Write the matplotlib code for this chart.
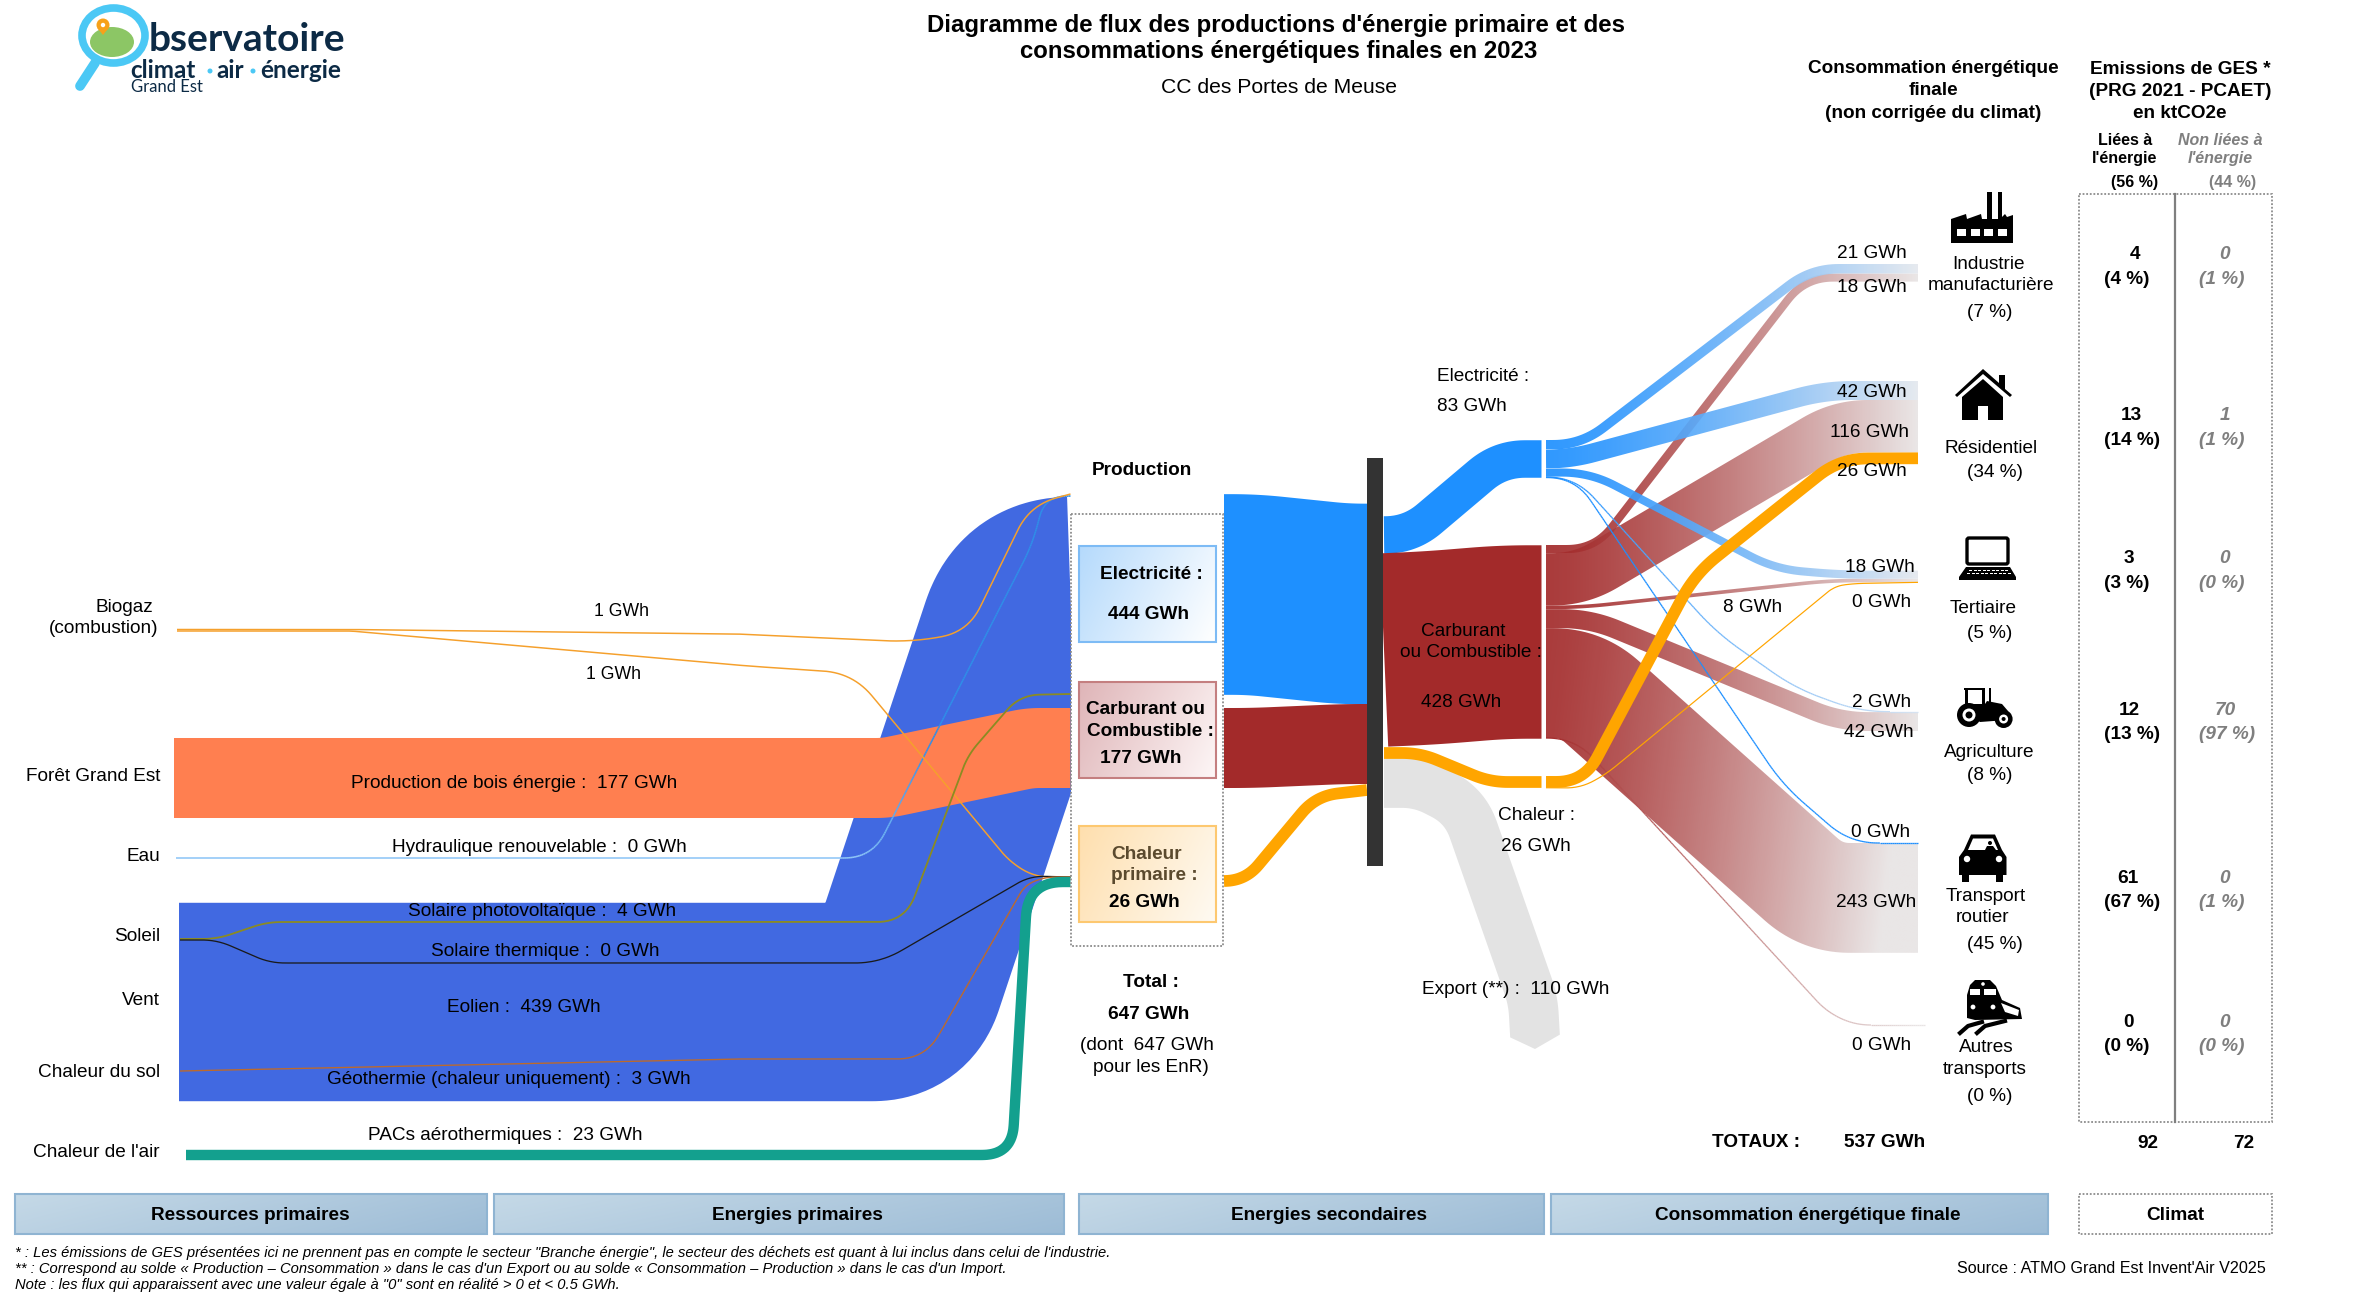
import numpy as np
import matplotlib
matplotlib.use('Agg')
import matplotlib.pyplot as plt
from matplotlib.path import Path
from matplotlib.patches import PathPatch, Rectangle, Polygon, Circle, Ellipse, FancyBboxPatch
from matplotlib.collections import LineCollection
from matplotlib.colors import to_rgb

plt.rcParams['font.family'] = ['Liberation Sans', 'DejaVu Sans']

# values (GWh)
biogas_values = [1, 1]
wood_value = 177
hydro_value = 0
solar_pv_value = 4
solar_th_value = 0
wind_value = 439
geo_value = 3
pac_value = 23

production_values = [444, 177, 26]
production_total = 647
secondary_values = [83, 428, 26]
export_value = 110

sectors = ['Industrie', 'Résidentiel', 'Tertiaire', 'Agriculture', 'Transport routier', 'Autres transports']
elec_to_sector = [21, 42, 18, 2, 0, None]
fuel_to_sector = [18, 116, 8, 42, 243, 0]
heat_to_sector = [None, 26, 0, None, None, None]
sector_pct = [7, 34, 5, 8, 45, 0]
final_total = 537

ges_energy = [4, 13, 3, 12, 61, 0]
ges_energy_pct = [4, 14, 3, 13, 67, 0]
ges_other = [0, 1, 0, 70, 0, 0]
ges_other_pct = [1, 1, 0, 97, 1, 0]
ges_totals = [92, 72]
ges_share = [56, 44]

# layout
GWH_PX = 0.452
BLUE = '#1e90ff'
RED = '#a32a2a'
ORANGE = '#ffa500'
ROYAL = '#4169e1'
FS = 13.7

fig = plt.figure(figsize=(23.7, 12.99), dpi=100)
ax = fig.add_axes([0, 0, 1, 1])
ax.set_xlim(0, 2370)
ax.set_ylim(1299, 0)
ax.axis('off')
ax.autoscale(False)


def sample_route(points, radii=20):
    pts = [np.array(p, dtype=float) for p in points]
    if np.isscalar(radii):
        radii = [radii] * len(pts)
    out = [pts[0]]
    for i in range(1, len(pts) - 1):
        d1 = pts[i] - pts[i - 1]
        d2 = pts[i + 1] - pts[i]
        l1, l2 = np.hypot(*d1), np.hypot(*d2)
        # the first and last legs are not shared with another bend
        lim1 = l1 if i == 1 else l1 / 2
        lim2 = l2 if i == len(pts) - 2 else l2 / 2
        r = min(radii[i - 1], lim1, lim2)
        a = pts[i] - d1 / l1 * r
        b = pts[i] + d2 / l2 * r
        for t in np.linspace(0, 1, 15):
            out.append((1 - t) ** 2 * a + 2 * t * (1 - t) * pts[i] + t ** 2 * b)
    out.append(pts[-1])
    out = np.array(out)
    s = np.r_[0, np.cumsum(np.hypot(*np.diff(out, axis=0).T))]
    keep = np.r_[True, np.diff(s) > 1e-6]
    out, s = out[keep], s[keep]
    ss = np.linspace(0, s[-1], max(int(s[-1] / 2), 2) + 1)
    return np.c_[np.interp(ss, s, out[:, 0]), np.interp(ss, s, out[:, 1])]


def band_path(line, w, tip=None):
    # union of small triangles, all turned the same way, so sharp inner bends stay filled
    d = np.gradient(line, axis=0)
    d /= np.hypot(d[:, 0], d[:, 1])[:, None]
    d[0] = line[1] - line[0]
    d[0] /= np.hypot(*d[0])
    d[-1] = line[-1] - line[-2]
    d[-1] /= np.hypot(*d[-1])
    n = np.c_[-d[:, 1], d[:, 0]] * w / 2
    verts, codes = [], []
    def add(q):
        q = np.array(q)
        x, y = q[:, 0], q[:, 1]
        if np.dot(x, np.roll(y, 1)) - np.dot(y, np.roll(x, 1)) < 0:
            q = q[::-1]
        verts.extend(list(q) + [q[0]])
        codes.extend([Path.MOVETO] + [Path.LINETO] * (len(q) - 1) + [Path.CLOSEPOLY])
    for i in range(len(line) - 1):
        for sign in (1, -1):
            a, b = line[i] + sign * n[i], line[i + 1] + sign * n[i + 1]
            add([line[i], line[i + 1], b])
            add([line[i], b, a])
    if tip is not None:
        add([line[-1] + n[-1], line[-1] - n[-1], tip])
    return Path(np.array(verts), codes)


def flow(points, value, color=BLUE, end_color=None, radii=20, min_w=1.3, z=3, tilt=0.0, alpha=0.92, tip=None, grad=(1546, 1918)):
    w = max(value * GWH_PX, min_w)
    line = sample_route(points, radii)
    if end_color is None:
        if w < 3:
            ax.plot(line[:, 0], line[:, 1], color=color, lw=w * 0.72, solid_capstyle='butt', zorder=z)
        else:
            ax.add_patch(PathPatch(band_path(line, w, tip), fc=color, ec='none', lw=0, zorder=z))
        return
    c0, c1 = np.array(to_rgb(color)), np.array(to_rgb(end_color))
    if w < 3:
        mids = (line[:-1] + line[1:]) / 2
        t = np.clip((mids[:, 0] - grad[0]) / (grad[1] - grad[0]), 0, 1)[:, None]
        segs = np.stack([line[:-1], line[1:]], axis=1)
        ax.add_collection(LineCollection(segs, colors=c0 * (1 - t) + c1 * t, linewidths=w * 0.72, zorder=z, capstyle='butt'))
        return
    path = band_path(line, w)
    x0, y0 = path.vertices.min(axis=0)
    x1, y1 = path.vertices.max(axis=0)
    xx, yy = np.meshgrid(np.linspace(x0, x1, 120), np.linspace(y0, y1, 120))
    t = np.clip((xx - grad[0] + tilt * (yy - y0)) / (grad[1] - grad[0]), 0, 1)[..., None] ** 1.3
    rgba = np.dstack([c0 * (1 - t) + c1 * t, np.full(xx.shape, alpha)])
    im = ax.imshow(rgba, extent=(x0, x1, y1, y0), aspect='auto', zorder=z, interpolation='bilinear')
    im.set_clip_path(path, ax.transData)


def txt(x, y, s, size=FS, ha='center', weight='normal', style='normal', color='black', z=20, **kw):
    ax.text(x, y + 1.5, s, fontsize=size, ha=ha, va='center', fontweight=weight, fontstyle=style, color=color, zorder=z, **kw)


def grad_box(x0, y0, x1, y1, c0, c1, edge, z=6, lw=1.5):
    xx, yy = np.meshgrid(np.linspace(0, 1, 60), np.linspace(0, 1, 60))
    t = np.clip((xx * 0.75 + yy * 0.25), 0, 1)[..., None]
    a, b = np.array(to_rgb(c0)), np.array(to_rgb(c1))
    ax.imshow(a * (1 - t) + b * t, extent=(x0, x1, y1, y0), aspect='auto', zorder=z, interpolation='bilinear')
    ax.add_patch(Rectangle((x0, y0), x1 - x0, y1 - y0, fc='none', ec=edge, lw=lw, zorder=z + 0.1))


def dotted_box(x0, y0, x1, y1, z=5, fc='white', ec='#8c8c8c'):
    ax.add_patch(Rectangle((x0, y0), x1 - x0, y1 - y0, fc=fc, ec=ec, lw=1.3, ls=(0, (1, 1)), zorder=z))


# ---- primary resources -> primary energies
END = 1070.5
flow([(179, 1002), (897, 1002), (1032, 596), (END, 596)], wind_value, ROYAL, radii=[24, 45], z=2)
flow([(174, 778), (886, 778), (1030, 748), (END, 748)], wood_value, '#ff7f50', radii=10, z=2.1)
flow([(176, 858), (872, 858), (1032, 545), (1045, 497), (END, 496)], hydro_value, '#8fc6f7', '#2f8ee8', radii=[28, 20, 20], min_w=1.6, z=2.2, grad=(860, 930))
flow([(177, 629.5), (351, 629.5), (737, 634), (912, 642), (968, 632), (1030, 505), (END, 494)], biogas_values[0], '#f5a02c', radii=[5, 5, 28, 28, 28], min_w=1.5, z=2.3)
flow([(177, 631), (351, 631), (747, 666), (853, 673), (1010, 862), (1035, 877), (END, 877)], biogas_values[1], '#f5a02c', radii=[5, 30, 30, 15, 15], min_w=1.5, z=2.3)
flow([(180, 939), (217, 939), (267, 922), (905, 922), (968, 755), (1020, 695), (END, 694)], solar_pv_value, '#8b8b22', radii=[15, 15, 28, 15, 20], z=2.4)
flow([(180, 940), (217, 940), (270, 963), (880, 963), (1030, 876), (END, 877)], solar_th_value, '#1a1a1a', radii=[15, 15, 25, 15], z=2.4)
flow([(180, 1071), (737, 1059), (925, 1059), (1025, 885), (1045, 877), (END, 877)], geo_value, '#bd6a2b', radii=[5, 28, 15, 15], z=2.4)
flow([(186, 1155), (1012, 1155), (1028, 882), (END, 882)], pac_value, '#13a08e', radii=[30, 35], z=2.5)

# production panel
dotted_box(1070.5, 514, 1223, 946, z=5)
grad_box(1079, 546, 1216, 642, '#b5dafc', '#ffffff', '#7dbbf5')
grad_box(1079, 682, 1216, 778, '#dfb5b8', '#fdf6f6', '#c47f80')
grad_box(1079, 826, 1216, 922, '#fedfae', '#fffaf2', '#fdc870')

# ---- production -> black bar
flow([(1224, 594.5), (1252, 594.5), (1344, 604), (1367, 604)], production_values[0], BLUE, radii=20)
flow([(1224, 748), (1252, 748), (1344, 744), (1367, 744)], production_values[1], RED, radii=20)
flow([(1224, 881), (1245, 881), (1316, 796), (1367, 790)], production_values[2], ORANGE, radii=[25, 22])
ax.add_patch(Rectangle((1367, 458), 16, 408, fc='#333333', ec='none', zorder=8))

# ---- black bar -> secondary energies
flow([(1384, 535), (1410, 535), (1500, 459), (1541.5, 459)], secondary_values[0], BLUE, radii=25)
flow([(1384, 650), (1430, 648), (1504, 642), (1541.5, 642)], secondary_values[1], RED, radii=25)
flow([(1384, 753), (1420, 753), (1490, 782), (1541.5, 782)], secondary_values[2], ORANGE, radii=18)
flow([(1384, 783), (1420, 783), (1465, 806), (1533, 1000), (1535, 1036)], export_value, '#e3e3e3', radii=[18, 25, 15], z=2.8,
     tip=(1535, 1049))

# ---- secondary energies -> final sectors
X_START = 1546
X_END = 1918
sector_top = [264, 381, 570.6, 711.2, 843, 1025]
elec_top = 440
fuel_top = 545
heat_top = 776

elec_mids = [
    [(1581, 445), (1811, 268)],
    [(1570, 459), (1825, 391)],
    [(1590, 472), (1775, 569), (1840, 575)],
    [(1575, 477), (1717, 633), (1795, 688), (1860, 711.5)],
    [(1575, 477), (1783, 785), (1850, 842)],
    None,
]
fuel_mids = [
    [(1595, 549), (1805, 276.5)],
    [(1580, 579.3), (1840, 426.4)],
    [(1580, 607.3), (1830, 581.3)],
    [(1590, 618.5), (1840, 721.5)],
    [(1581, 683.4), (1822, 898)],
    [(1575, 739), (1827, 1012), (1855, 1025)],
]
heat_mids = [
    None,
    [(1584, 782), (1695, 574), (1840, 458.5)],
    [(1580, 788), (1605, 775), (1835, 586), (1855, 583.5)],
    None, None, None,
]
elec_end_colors = ['#e4e8ee', '#e4e8ee', '#e4e8ee', '#d5e3f2', BLUE, None]
fuel_end_colors = ['#e8e4e4'] * 6

# how much is already stacked at the right end of each sector, in px
stacked = [0.0] * 6


def stack_flows(values, mids, top, color, end_colors, z):
    y = top
    for i, v in enumerate(values):
        if v is None:
            continue
        w = v * GWH_PX
        ys = y + w / 2
        ye = sector_top[i] + stacked[i] + w / 2
        stacked[i] += w
        y += w
        m = list(mids[i])
        m[0] = (m[0][0], ys) if abs(m[0][1] - ys) < 12 else m[0]
        xe = 1925 if i == 5 else X_END
        if abs(m[-1][1] - ye) < 8:
            m[-1] = (m[-1][0], ye)
        tilt = 0.12 if i == 4 else 0.0
        flow([(X_START, ys)] + m + [(xe, ye)], v, color, end_colors[i], radii=28, z=z, tilt=tilt)


# electricity sits on top at each sector, then fuel, then heat
stack_flows(elec_to_sector, elec_mids, elec_top, BLUE, elec_end_colors, 3.2)
stack_flows(fuel_to_sector, fuel_mids, fuel_top, RED, fuel_end_colors, 3.0)
y = heat_top
for i, v in enumerate(heat_to_sector):
    if v is None:
        continue
    w = v * GWH_PX
    ye = sector_top[i] + stacked[i] + w / 2
    stacked[i] += w
    flow([(X_START, y + w / 2)] + heat_mids[i] + [(X_END, ye)], v, ORANGE, radii=28, z=3.4, min_w=1.2)
    y += w

# ---- left labels
txt(124, 606, 'Biogaz')
txt(104, 626.5, '(combustion)')
left_labels = ['Forêt Grand Est', 'Eau', 'Soleil', 'Vent', 'Chaleur du sol', "Chaleur de l'air"]
left_label_y = [774.5, 855, 935, 999, 1071, 1151]
for s, yy in zip(left_labels, left_label_y):
    txt(160, yy, s, ha='right')

txt(621, 610, f'{biogas_values[0]} GWh', size=FS - 1)
txt(613, 673, f'{biogas_values[1]} GWh', size=FS - 1)
txt(514, 782, f'Production de bois énergie :  {wood_value} GWh')
txt(539, 846, f'Hydraulique renouvelable :  {hydro_value} GWh')
txt(542, 910, f'Solaire photovoltaïque :  {solar_pv_value} GWh')
txt(545, 950, f'Solaire thermique :  {solar_th_value} GWh')
txt(524, 1006, f'Eolien :  {wind_value} GWh')
txt(509, 1078, f'Géothermie (chaleur uniquement) :  {geo_value} GWh')
txt(505, 1134, f'PACs aérothermiques :  {pac_value} GWh')

# ---- middle labels
txt(1142, 469, 'Production', weight='bold')
txt(1151, 573, 'Electricité :', weight='bold')
txt(1149, 613, f'{production_values[0]} GWh', weight='bold')
txt(1146, 708, 'Carburant ou', weight='bold')
txt(1150, 730, 'Combustible :', weight='bold')
txt(1141, 757, f'{production_values[1]} GWh', weight='bold')
txt(1147, 853, 'Chaleur', weight='bold', color='#5b4a2e')
txt(1154, 874, 'primaire :', weight='bold', color='#5b4a2e')
txt(1144, 901, f'{production_values[2]} GWh', weight='bold')
txt(1151, 981, 'Total :', weight='bold')
txt(1149, 1012.5, f'{production_total} GWh', weight='bold')
txt(1147, 1044, f'(dont  {production_total} GWh')
txt(1151, 1066.5, 'pour les EnR)')

txt(1483, 375, 'Electricité :')
txt(1472, 405, f'{secondary_values[0]} GWh')
txt(1463, 630, 'Carburant')
txt(1471, 651, 'ou Combustible :')
txt(1461, 701, f'{secondary_values[1]} GWh')
txt(1536, 814, 'Chaleur :')
txt(1536, 845, f'{secondary_values[2]} GWh')
txt(1516, 988, f'Export (**) :  {export_value} GWh')

# ---- flow labels on the right
elec_label_pos = [(1872, 251.5), (1872, 390.6), (1880, 566), (1882, 701), (1881, 831), None]
fuel_label_pos = [(1872, 286), (1869, 431), (1753, 606), (1879, 731), (1876, 901), (1882, 1044)]
heat_label_pos = [None, (1872, 470), (1882, 601), None, None, None]
for vals, pos in [(elec_to_sector, elec_label_pos), (fuel_to_sector, fuel_label_pos), (heat_to_sector, heat_label_pos)]:
    for v, p in zip(vals, pos):
        if v is not None:
            txt(p[0], p[1], f'{v} GWh')

sector_lines = [['Industrie', 'manufacturière'], ['Résidentiel'], ['Tertiaire'], ['Agriculture'], ['Transport', 'routier'], ['Autres', 'transports']]
sector_line_pos = [[(1989, 263), (1991, 284)], [(1991, 447)], [(1983, 607)], [(1989, 750.5)], [(1986, 895), (1983, 916)], [(1986, 1046), (1985, 1068)]]
sector_pct_pos = [(1990, 311), (1995, 471), (1990, 632), (1990, 774), (1995, 942.5), (1990, 1095)]
for lines, pos, pct, pp in zip(sector_lines, sector_line_pos, sector_pct, sector_pct_pos):
    for s, p in zip(lines, pos):
        txt(p[0], p[1], s)
    txt(pp[0], pp[1], f'({pct} %)')

# ---- headers
txt(1276, 24, "Diagramme de flux des productions d'énergie primaire et des", size=17.3, weight='bold')
txt(1279, 50, 'consommations énergétiques finales en 2023', size=17.3, weight='bold')
txt(1279, 86, 'CC des Portes de Meuse', size=15.2)
for s, yy in zip(['Consommation énergétique', 'finale', '(non corrigée du climat)'], [67, 89, 112]):
    txt(1933, yy, s, weight='bold')
for s, yy in zip(['Emissions de GES *', '(PRG 2021 - PCAET)', 'en ktCO2e'], [68, 90, 112]):
    txt(2180, yy, s, weight='bold')
GREY = '#7f7f7f'
txt(2125, 138.5, 'Liées à', size=11.5, weight='bold')
txt(2125, 157, "l'énergie", size=11.5, weight='bold')
txt(2134.5, 180.6, f'({ges_share[0]} %)', size=11.5, weight='bold')
txt(2220, 138.5, 'Non liées à', size=11.5, weight='bold', style='italic', color=GREY)
txt(2220, 157, "l'énergie", size=11.5, weight='bold', style='italic', color=GREY)
txt(2233, 180.6, f'({ges_share[1]} %)', size=11.5, weight='bold', color=GREY)

# ---- GHG table
dotted_box(2079, 194, 2272, 1121.5, z=1)
ax.plot([2175, 2175], [194, 1121.5], color=GREY, lw=1.6, zorder=2)
ges_y = [253, 413.6, 557, 709, 877, 1021]
ges_pct_y = [278, 438.5, 582, 733, 901, 1045]
ges_x = [2135, 2131, 2129, 2129, 2128, 2129]
for i in range(6):
    txt(ges_x[i], ges_y[i], str(ges_energy[i]), weight='bold')
    txt(2104, ges_pct_y[i], f'({ges_energy_pct[i]} %)', ha='left', weight='bold')
    txt(2225, ges_y[i], str(ges_other[i]), weight='bold', style='italic', color=GREY)
    txt(2199, ges_pct_y[i], f'({ges_other_pct[i]} %)', ha='left', weight='bold', style='italic', color=GREY)
txt(2148, 1142, str(ges_totals[0]), weight='bold')
txt(2244, 1142, str(ges_totals[1]), weight='bold')
txt(1756, 1141, 'TOTAUX :', weight='bold')
txt(1885, 1141, f'{final_total} GWh', weight='bold')

# ---- bottom strip
strip_labels = ['Ressources primaires', 'Energies primaires', 'Energies secondaires', 'Consommation énergétique finale']
strip_x = [(15, 487), (494, 1064), (1079, 1544), (1551, 2048)]
strip_text_x = [250, 797, 1329, 1808]
for s, (a, b), tx in zip(strip_labels, strip_x, strip_text_x):
    grad_box(a, 1194, b, 1234, '#c5d9e7', '#9dbcd6', '#8fb4d2', z=4)
    txt(tx, 1214, s, weight='bold')
dotted_box(2079, 1194, 2272, 1234, z=4)
txt(2175, 1214, 'Climat', weight='bold')

txt(15, 1251, '* : Les émissions de GES présentées ici ne prennent pas en compte le secteur "Branche énergie", le secteur des déchets est quant à lui inclus dans celui de l\'industrie.', size=10.6, ha='left', style='italic')
txt(15, 1267, "** : Correspond au solde « Production – Consommation » dans le cas d'un Export ou au solde « Consommation – Production » dans le cas d'un Import.", size=10.6, ha='left', style='italic')
txt(15, 1284, 'Note : les flux qui apparaissent avec une valeur égale à "0" sont en réalité > 0 et < 0.5 GWh.', size=10.6, ha='left', style='italic')
txt(2266, 1267, "Source : ATMO Grand Est Invent'Air V2025", size=11.6, ha='right')


# ---- pictograms (decoration, drawn in pixel space)
def poly(pts, c='black', z=10):
    ax.add_patch(Polygon(pts, closed=True, fc=c, ec='none', zorder=z))


def rect(x0, y0, x1, y1, c='black', z=10):
    ax.add_patch(Rectangle((x0, y0), x1 - x0, y1 - y0, fc=c, ec='none', zorder=z))


def disc(x, y, r, c='black', z=10):
    ax.add_patch(Circle((x, y), r, fc=c, ec='none', zorder=z))


# factory
poly([(1951, 243), (1951, 219), (1966, 214), (1967, 219), (1981, 214), (1982, 219), (1987, 219), (1987, 192), (1992, 192),
      (1992, 219), (1998, 219), (1998, 192), (2002, 192), (2002, 217), (2005, 214), (2007, 217), (2013, 215), (2013, 243)])
for a in [1957, 1971, 1984, 1998]:
    rect(a, 229, a + 9, 236, 'white', 11)
# house
poly([(1955, 395), (1983, 369), (1999, 383), (1999, 375), (2005, 375), (2005, 389), (2012, 395), (2010, 397), (1983, 374), (1957, 397)])
poly([(1983, 379), (2003, 397), (2003, 420), (1962, 420), (1962, 397)])
rect(1977.5, 406, 1988, 420, 'white', 11)
# laptop
ax.add_patch(FancyBboxPatch((1968, 539), 39, 24, boxstyle='round,pad=1,rounding_size=2', fc='white', ec='black', lw=2.4, zorder=10))
poly([(1966, 567), (2010, 567), (2016, 577), (2016, 580), (1959, 580), (1959, 577)])
for row, (a, b) in enumerate([(1969, 2006), (1967, 2008)]):
    for k in np.arange(a, b, 4.5):
        rect(k, 569.5 + row * 3.2, k + 3, 571 + row * 3.2, 'white', 11)
# tractor
rect(1964, 687.5, 1985, 690, z=10)
rect(1965, 688, 1967.5, 706)
rect(1982, 688, 1984.5, 706)
poly([(1964, 704), (1985, 704), (1987, 701), (2002, 704), (2008, 711), (2007, 720), (1980, 722), (1966, 712)])
rect(1989, 688, 1991, 702)
disc(1969, 715, 12, z=11)
disc(1969, 715, 6.5, 'white', 12)
disc(1969, 715, 3.5, 'black', 13)
disc(2003.6, 719, 9, z=11)
disc(2003.6, 719, 4.5, 'white', 12)
disc(2003.6, 719, 2, 'black', 13)
# car
poly([(1971, 834.5), (1995, 834.5), (2002, 850), (2006.5, 857), (2006.5, 875), (1959, 875), (1959, 857), (1964, 850)])
rect(1962, 873, 1969, 881.6)
rect(1996, 873, 2003, 881.6)
poly([(1973, 838.5), (1993, 838.5), (1998, 850), (1968, 850)], 'white', 11)
disc(1990, 843, 2, 'black', 12)
poly([(1985, 850), (1987, 846), (1993, 846), (1996, 850)], 'black', 12)
disc(1967, 859, 3.2, 'white', 11)
disc(1999, 859, 3.2, 'white', 11)
# train
poly([(1970, 985), (1975, 980), (1990, 980), (1996, 986), (2002, 1000), (2020, 1008), (2022, 1019), (1975, 1020), (1967, 1018), (1967, 995)])
rect(1970, 989, 1980, 995, 'white', 11)
rect(1984, 989, 1996, 995, 'white', 11)
disc(1983, 984, 1.8, 'white', 11)
disc(1973, 1007, 2.4, 'white', 11)
disc(1993, 1007, 2.4, 'white', 11)
poly([(2001, 1003), (2019, 1010), (2018, 1016), (2005, 1012)], 'white', 11)
ax.plot([1960, 1968, 1982], [1033, 1026, 1022], color='black', lw=3, zorder=10)
ax.plot([1977, 1985, 2005], [1033, 1026, 1021], color='black', lw=3, zorder=10)

# logo
ax.add_patch(Ellipse((113.5, 35.5), 63, 55, fc='white', ec='#4bc8f5', lw=5.5, zorder=10))
ax.plot([95, 80], [63, 86], color='#4bc8f5', lw=7, solid_capstyle='round', zorder=9)
ax.add_patch(Ellipse((112, 42), 44, 30, fc='#8cc665', ec='none', zorder=11))
disc(103, 25, 6.5, '#f7a11a', 12)
poly([(97.5, 28), (108.5, 28), (103, 35)], '#f7a11a', 12)
disc(103, 25, 2.2, 'white', 13)
NAVY = '#0c2a45'
ax.text(149, 51, 'bservatoire', fontsize=28, fontweight='bold', family='Lato', color=NAVY, ha='left', va='baseline', zorder=12)
ax.text(130, 78, 'climat', fontsize=17.5, fontweight='bold', family='Lato', color=NAVY, ha='left', va='baseline', zorder=12)
ax.text(216, 78, 'air', fontsize=17.5, fontweight='bold', family='Lato', color=NAVY, ha='left', va='baseline', zorder=12)
ax.text(260, 78, 'énergie', fontsize=17.5, fontweight='bold', family='Lato', color=NAVY, ha='left', va='baseline', zorder=12)
disc(210, 71, 2.5, '#4bc8f5', 12)
disc(253, 71, 2.5, '#4bc8f5', 12)
ax.text(131, 92, 'Grand Est', fontsize=12, family='Lato', color=NAVY, ha='left', va='baseline', zorder=12)

fig.savefig('out.png', dpi=100)
